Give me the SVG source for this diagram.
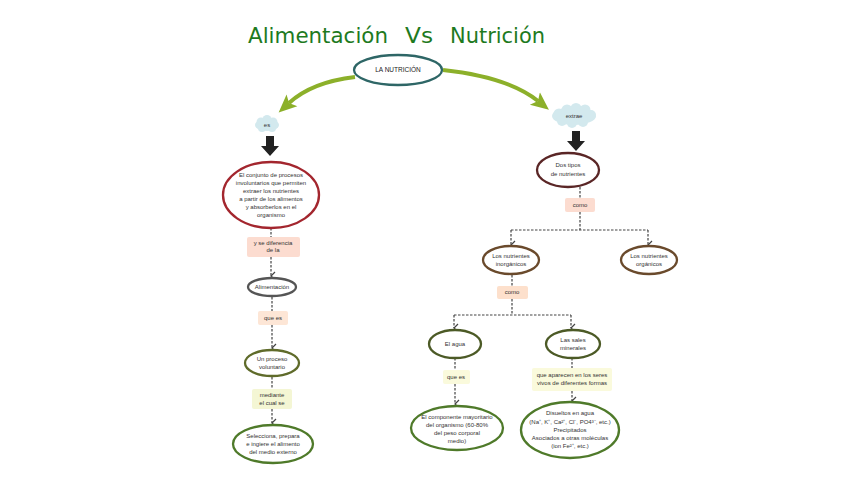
<svg xmlns="http://www.w3.org/2000/svg" width="848" height="477" viewBox="0 0 848 477">
<style>
.t{font-family:"Liberation Sans",Arial,sans-serif;font-size:6px;fill:#333;text-anchor:middle}
.tb{font-family:"Liberation Sans",Arial,sans-serif;font-size:6.5px;fill:#222;text-anchor:middle}
.ti{font-family:"DejaVu Sans",Verdana,sans-serif;font-size:22px;fill:#1e7a1e}
.cn{fill:none;stroke:#444;stroke-width:1.2;stroke-dasharray:2.5 1.5}
.el{fill:#fff;stroke-width:2.3}
.lb{stroke:none}
</style>
<defs>
<marker id="chev" markerUnits="userSpaceOnUse" markerWidth="10" markerHeight="8" refX="4" refY="5" orient="auto-start-reverse" viewBox="0 0 8 8">
<path d="M0,1 L4,5 L8,1" fill="none" stroke="#444" stroke-width="1.2"/>
</marker>
<marker id="garrow" markerUnits="userSpaceOnUse" markerWidth="20" markerHeight="20" refX="4" refY="8" orient="auto" viewBox="0 0 20 16">
<path d="M0,0 L18,8 L0,16 L4,8 Z" fill="#8cb02a"/>
</marker>
</defs>
<rect width="848" height="477" fill="#fff"/>
<g id="title">
<text class="ti" x="248" y="43" textLength="140" lengthAdjust="spacingAndGlyphs">Alimentación</text>
<text class="ti" x="405" y="43" textLength="28" lengthAdjust="spacingAndGlyphs">Vs</text>
<text class="ti" x="450" y="43" textLength="95" lengthAdjust="spacingAndGlyphs">Nutrición</text>
</g>

<g id="arrows-green">
<path d="M355,77 Q312,82 289,103" fill="none" stroke="#8cb02a" stroke-width="4" marker-end="url(#garrow)"/>
<path d="M443,70 Q508,77 538,101" fill="none" stroke="#8cb02a" stroke-width="4" marker-end="url(#garrow)"/>
</g>

<g id="connectors">
<path class="cn" d="M271,228 V237"/>
<path class="cn" d="M271,257 V276" marker-end="url(#chev)"/>
<path class="cn" d="M272,297 V311"/>
<path class="cn" d="M272,325 V348" marker-end="url(#chev)"/>
<path class="cn" d="M272,377 V389"/>
<path class="cn" d="M272,409 V423" marker-end="url(#chev)"/>
<path class="cn" d="M580,187 V198"/>
<path class="cn" d="M580,212 V230"/>
<path class="cn" d="M511,230 H648"/>
<path class="cn" d="M511,230 V245" marker-end="url(#chev)"/>
<path class="cn" d="M648,230 V245" marker-end="url(#chev)"/>
<path class="cn" d="M512,275 V286"/>
<path class="cn" d="M512,299 V315"/>
<path class="cn" d="M454,315 H571"/>
<path class="cn" d="M454,315 V328" marker-end="url(#chev)"/>
<path class="cn" d="M571,315 V328" marker-end="url(#chev)"/>
<path class="cn" d="M455,358 V370"/>
<path class="cn" d="M455,384 V404" marker-end="url(#chev)"/>
<path class="cn" d="M572,358 V368"/>
<path class="cn" d="M572,391 V401" marker-end="url(#chev)"/>
</g>

<g id="n-nutricion">
<ellipse class="el" cx="398" cy="70" rx="44" ry="15" stroke="#2e6666" stroke-width="3"/>
<text class="tb" x="398" y="72">LA NUTRICIÓN</text>
</g>

<g id="n-es">
<g fill="#d3e9ee">
<ellipse cx="267" cy="125" rx="12" ry="6"/>
<circle cx="261" cy="122" r="4.5"/><circle cx="267" cy="119.5" r="4.5"/><circle cx="273" cy="122" r="4.5"/>
<circle cx="262" cy="128" r="4"/><circle cx="272" cy="128" r="4"/>
</g>
<text class="t" x="267" y="127" font-size="5">es</text>
</g>
<polygon id="a-left" points="266,136 274,136 274,146 279,146 270,156 261,146 266,146" fill="#222"/>

<g id="n-extrae">
<g fill="#d3e9ee">
<ellipse cx="574" cy="116" rx="22" ry="9"/>
<circle cx="559" cy="114" r="5.5"/><circle cx="567" cy="110" r="5.5"/><circle cx="576" cy="108.5" r="5.5"/><circle cx="585" cy="110" r="5.5"/><circle cx="591" cy="115" r="5"/>
<circle cx="562" cy="121" r="5"/><circle cx="572" cy="123" r="5"/><circle cx="583" cy="122" r="5"/>
</g>
<text class="t" x="574" y="118" font-size="5.5">extrae</text>
</g>
<polygon id="a-right" points="572,131 580,131 580,141 585,141 576,151 567,141 572,141" fill="#222"/>

<g id="n-conjunto">
<ellipse class="el" cx="271" cy="195" rx="48" ry="33" stroke="#a3262e"/>
<text class="t" x="271" y="177">El conjunto de procesos</text>
<text class="t" x="271" y="185">involuntarios que permiten</text>
<text class="t" x="271" y="193">extraer los nutrientes</text>
<text class="t" x="271" y="201">a partir de los alimentos</text>
<text class="t" x="271" y="209">y absorberlos en el</text>
<text class="t" x="271" y="217">organismo</text>
</g>
<g id="l-diferencia">
<rect class="lb" x="247" y="237" width="53" height="20" rx="2" fill="#fcdcd0"/>
<text class="t" x="273" y="245" font-size="5.5">y se diferencia</text>
<text class="t" x="273" y="252" font-size="5.5">de la</text>
</g>
<g id="n-alimentacion">
<ellipse class="el" cx="272" cy="287" rx="24" ry="9" stroke="#555"/>
<text class="t" x="272" y="289">Alimentación</text>
</g>
<g id="l-quees1">
<rect class="lb" x="258" y="311" width="30" height="14" rx="2" fill="#fde6d6"/>
<text class="t" x="273" y="320" font-size="5.5">que es</text>
</g>
<g id="n-voluntario">
<ellipse class="el" cx="272" cy="363" rx="27" ry="13" stroke="#5f6b2a"/>
<text class="t" x="272" y="361">Un proceso</text>
<text class="t" x="272" y="369">voluntario</text>
</g>
<g id="l-mediante">
<rect class="lb" x="252" y="389" width="40" height="20" rx="2" fill="#f4f6d4"/>
<text class="t" x="272" y="397" font-size="5.5">mediante</text>
<text class="t" x="272" y="405" font-size="5.5">el cual se</text>
</g>
<g id="n-selecciona">
<ellipse class="el" cx="273" cy="444" rx="40" ry="19" stroke="#4f7a2a"/>
<text class="t" x="273" y="438">Selecciona, prepara</text>
<text class="t" x="273" y="446">e ingiere el alimento</text>
<text class="t" x="273" y="454">del medio externo</text>
</g>

<g id="n-dostipos">
<ellipse class="el" cx="568" cy="170" rx="31" ry="17" stroke="#5a2626"/>
<text class="t" x="568" y="167">Dos tipos</text>
<text class="t" x="568" y="176">de nutrientes</text>
</g>
<g id="l-como1">
<rect class="lb" x="565" y="198" width="30" height="14" rx="2" fill="#fcdcd0"/>
<text class="t" x="580" y="207" font-size="5.5">como</text>
</g>
<g id="n-inorganicos">
<ellipse class="el" cx="511" cy="260" rx="28" ry="14" stroke="#6a4a2c"/>
<text class="t" x="511" y="258">Los nutrientes</text>
<text class="t" x="511" y="266">inorgánicos</text>
</g>
<g id="n-organicos">
<ellipse class="el" cx="649" cy="260" rx="28" ry="14" stroke="#6a4a2c"/>
<text class="t" x="649" y="258">Los nutrientes</text>
<text class="t" x="649" y="266">orgánicos</text>
</g>
<g id="l-como2">
<rect class="lb" x="497" y="286" width="31" height="13" rx="2" fill="#fde0cc"/>
<text class="t" x="512" y="294" font-size="5">como</text>
</g>
<g id="n-agua">
<ellipse class="el" cx="455" cy="344" rx="26" ry="14" stroke="#4c5a26"/>
<text class="t" x="455" y="346">El agua</text>
</g>
<g id="n-sales">
<ellipse class="el" cx="573" cy="344" rx="27" ry="14" stroke="#4c5a26"/>
<text class="t" x="573" y="342">Las sales</text>
<text class="t" x="573" y="350">minerales</text>
</g>
<g id="l-quees2">
<rect class="lb" x="443" y="370" width="27" height="14" rx="2" fill="#fafadc"/>
<text class="t" x="456" y="379" font-size="5">que es</text>
</g>
<g id="l-aparecen">
<rect class="lb" x="532" y="368" width="80" height="23" rx="2" fill="#fafadc"/>
<text class="t" x="572" y="377" font-size="5.3">que aparecen en los seres</text>
<text class="t" x="572" y="385" font-size="5.3">vivos de diferentes formas</text>
</g>
<g id="n-componente">
<ellipse class="el" cx="457" cy="428" rx="46" ry="22" stroke="#4f7a2a"/>
<text class="t" x="457" y="419">El componente mayoritario</text>
<text class="t" x="457" y="427">del organismo (60-80%</text>
<text class="t" x="457" y="435">del peso corporal</text>
<text class="t" x="457" y="443">medio)</text>
</g>
<g id="n-disueltos">
<ellipse class="el" cx="570" cy="430" rx="49" ry="28" stroke="#4f7a2a"/>
<text class="t" x="570" y="415">Disueltos en agua</text>
<text class="t" x="570" y="424">(Na⁺, K⁺, Ca²⁺, Cl⁻, PO4³⁻, etc.)</text>
<text class="t" x="570" y="432">Precipitados</text>
<text class="t" x="570" y="440">Asociados a otras moléculas</text>
<text class="t" x="570" y="448">(ion Fe²⁺, etc.)</text>
</g>
</svg>
